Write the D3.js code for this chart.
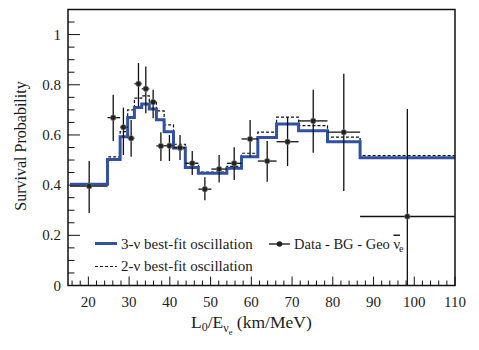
<!DOCTYPE html>
<html>
<head>
<meta charset="utf-8">
<title>Survival probability</title>
<script src="https://d3js.org/d3.v7.min.js"></script>
<style>
  body { margin: 0; background: #fff; }
  text { font-family: "Liberation Serif", "Times New Roman", serif; fill: #1c1c1c; }
</style>
</head>
<body>
<script>
// bin edges in L0/E (km/MeV)
const binEdges = [15.5, 24.7, 27.8, 29.65, 31.3, 33.1, 34.95, 36.7, 38.6, 40.9, 43.8,
                  47.0, 50.2, 54.0, 57.6, 61.6, 66.2, 71.6, 78.7, 86.7, 110];
// best-fit expectations per bin
const fit3nu = [0.404, 0.502, 0.593, 0.670, 0.709, 0.723, 0.703, 0.661, 0.613, 0.548,
                0.470, 0.447, 0.447, 0.467, 0.513, 0.590, 0.644, 0.617, 0.573, 0.509];
const fit2nu = [0.406, 0.513, 0.613, 0.700, 0.747, 0.756, 0.735, 0.696, 0.640, 0.563,
                0.487, 0.452, 0.452, 0.475, 0.527, 0.611, 0.671, 0.637, 0.591, 0.518];
// data - BG - geo
const dataX  = [20.2, 26.1, 28.6, 30.5, 32.3, 34.1, 35.9, 37.8, 39.9, 42.5,
                45.5, 48.6, 52.1, 55.8, 59.7, 63.9, 68.9, 75.2, 82.7, 98.3];
const dataY  = [0.396, 0.669, 0.631, 0.587, 0.804, 0.784, 0.731, 0.556, 0.557, 0.549,
                0.487, 0.384, 0.464, 0.487, 0.584, 0.496, 0.573, 0.656, 0.611, 0.275];
const dataLo = [0.289, 0.576, 0.520, 0.513, 0.713, 0.687, 0.667, 0.496, 0.496, 0.500,
                0.440, 0.340, 0.411, 0.420, 0.513, 0.413, 0.476, 0.529, 0.377, 0.0];
const dataHi = [0.496, 0.760, 0.709, 0.660, 0.887, 0.873, 0.780, 0.611, 0.600, 0.600,
                0.536, 0.431, 0.520, 0.551, 0.660, 0.576, 0.671, 0.780, 0.844, 0.703];

const xMajor = [20, 30, 40, 50, 60, 70, 80, 90, 100, 110];
const yMajor = [0, 0.2, 0.4, 0.6, 0.8, 1];
const yLabels = ["0", "0.2", "0.4", "0.6", "0.8", "1"];

const width = 479, height = 350;
const svg = d3.select("body").append("svg")
  .attr("width", width).attr("height", height);

const x = d3.scaleLinear().domain([15, 110]).range([68, 455]);
const y = d3.scaleLinear().domain([0, 1.1]).range([285.5, 9.5]);

const blue = "#3152a2";

// x ticks (inside, pointing up)
const xMinor = d3.range(16, 110, 2).filter(v => v % 10 !== 0);
svg.append("g").selectAll("line").data(xMinor).join("line")
  .attr("x1", d => x(d)).attr("x2", d => x(d))
  .attr("y1", y(0)).attr("y2", y(0) - 5)
  .attr("stroke", "#111").attr("stroke-width", 1);
svg.append("g").selectAll("line").data(xMajor).join("line")
  .attr("x1", d => x(d)).attr("x2", d => x(d))
  .attr("y1", y(0)).attr("y2", y(0) - 9)
  .attr("stroke", "#111").attr("stroke-width", 1);
svg.append("g").selectAll("text").data(xMajor).join("text")
  .attr("x", d => x(d)).attr("y", 307)
  .attr("text-anchor", "middle").attr("font-size", 15)
  .text(d => d);

// y ticks (inside, pointing right)
const yMinor = d3.range(1, 22).map(i => i * 0.05).filter(v => Math.abs(v * 5 - Math.round(v * 5)) > 1e-6);
svg.append("g").selectAll("line").data(yMinor).join("line")
  .attr("x1", x(15)).attr("x2", x(15) + 6.5)
  .attr("y1", d => y(d)).attr("y2", d => y(d))
  .attr("stroke", "#111").attr("stroke-width", 1);
svg.append("g").selectAll("line").data(yMajor).join("line")
  .attr("x1", x(15)).attr("x2", x(15) + 12)
  .attr("y1", d => y(d)).attr("y2", d => y(d))
  .attr("stroke", "#111").attr("stroke-width", 1);
svg.append("g").selectAll("text").data(yMajor).join("text")
  .attr("x", 61).attr("y", d => y(d) + 5)
  .attr("text-anchor", "end").attr("font-size", 15)
  .text((d, i) => yLabels[i]);

// step curves
function steps(vals) {
  const pts = vals.map((v, i) => [binEdges[i], v]);
  pts.push([binEdges[binEdges.length - 1], vals[vals.length - 1]]);
  return pts;
}
const stepLine = d3.line().x(d => x(d[0])).y(d => y(d[1])).curve(d3.curveStepAfter);

svg.append("path").attr("d", stepLine(steps(fit2nu)))
  .attr("fill", "none").attr("stroke", "#111")
  .attr("stroke-width", 1.2).attr("stroke-dasharray", "3,2");
svg.append("path").attr("d", stepLine(steps(fit3nu)))
  .attr("fill", "none").attr("stroke", blue).attr("stroke-width", 3);

// data points with error bars
const pts = dataX.map((v, i) => ({ x: v, y: dataY[i], lo: dataLo[i], hi: dataHi[i],
                                  x0: binEdges[i], x1: binEdges[i + 1] }));
const pg = svg.append("g");
pg.selectAll(".ex").data(pts).join("line").attr("class", "ex")
  .attr("x1", d => x(d.x0)).attr("x2", d => x(d.x1))
  .attr("y1", d => y(d.y)).attr("y2", d => y(d.y))
  .attr("stroke", "#111").attr("stroke-width", 1.3);
pg.selectAll(".ey").data(pts).join("line").attr("class", "ey")
  .attr("x1", d => x(d.x)).attr("x2", d => x(d.x))
  .attr("y1", d => y(d.lo)).attr("y2", d => y(d.hi))
  .attr("stroke", "#111").attr("stroke-width", 1.3);
pg.selectAll("circle").data(pts).join("circle")
  .attr("cx", d => x(d.x)).attr("cy", d => y(d.y)).attr("r", 2.8)
  .attr("fill", "#222").attr("stroke", "#888").attr("stroke-width", 0.6);

// frame
svg.append("rect")
  .attr("x", x(15)).attr("y", y(1.1))
  .attr("width", x(110) - x(15)).attr("height", y(0) - y(1.1))
  .attr("fill", "none").attr("stroke", "#111").attr("stroke-width", 1.5);

// legend
const lg = svg.append("g");
lg.append("line").attr("x1", 95).attr("x2", 117).attr("y1", 243.5).attr("y2", 243.5)
  .attr("stroke", blue).attr("stroke-width", 3);
lg.append("text").attr("x", 121).attr("y", 248.5).attr("font-size", 15)
  .text("3-ν best-fit oscillation");
lg.append("line").attr("x1", 95).attr("x2", 117).attr("y1", 266.5).attr("y2", 266.5)
  .attr("stroke", "#111").attr("stroke-width", 1.2).attr("stroke-dasharray", "3,2");
lg.append("text").attr("x", 121).attr("y", 271).attr("font-size", 15)
  .text("2-ν best-fit oscillation");
lg.append("line").attr("x1", 269).attr("x2", 290).attr("y1", 244).attr("y2", 244)
  .attr("stroke", "#111").attr("stroke-width", 1.3);
lg.append("circle").attr("cx", 279.5).attr("cy", 244).attr("r", 2.8).attr("fill", "#222");
const dt = lg.append("text").attr("x", 294).attr("y", 248.5).attr("font-size", 14.5);
dt.append("tspan").text("Data - BG - Geo ");
dt.append("tspan").style("text-decoration", "overline").text("ν");
dt.append("tspan").attr("dy", 3).attr("dx", -1).attr("font-size", 10).text("e");

// axis titles
const xt = svg.append("text").attr("x", 191).attr("y", 328).attr("font-size", 17.5);
xt.append("tspan").text("L");
xt.append("tspan").attr("dy", 3).attr("font-size", 12).text("0");
xt.append("tspan").attr("dy", -3).text("/E");
xt.append("tspan").attr("dy", 4).attr("font-size", 12).text("ν");
xt.append("tspan").attr("dy", 3).attr("font-size", 8.5).text("e");
xt.append("tspan").attr("dy", -7).text(" (km/MeV)");

svg.append("text")
  .attr("transform", "translate(26,146) rotate(-90)")
  .attr("text-anchor", "middle").attr("font-size", 16)
  .text("Survival Probability");
</script>
</body>
</html>
